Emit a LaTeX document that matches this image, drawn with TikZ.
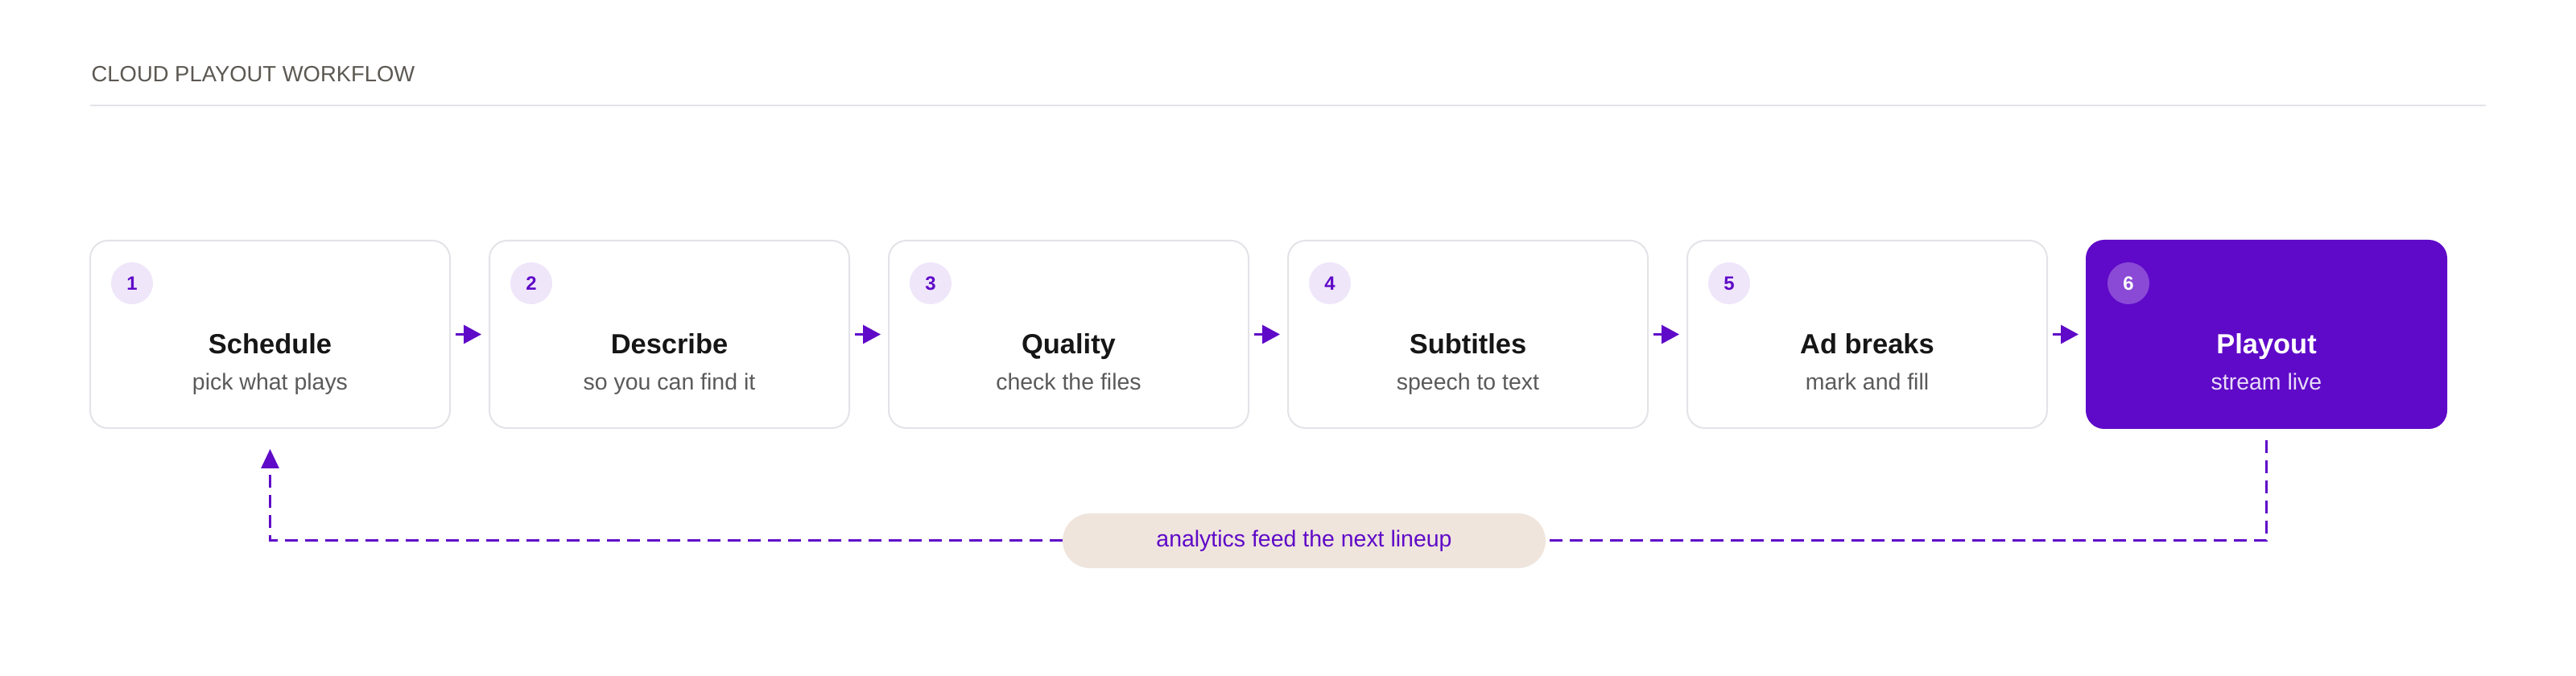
\documentclass[tikz,border=0pt]{standalone}
\usepackage{fontspec}
\setmainfont{Liberation Sans}
\usetikzlibrary{positioning,arrows.meta}
\definecolor{brand}{HTML}{5F0AC8}
\definecolor{badgebg}{HTML}{EFE6FA}
\definecolor{livebadge}{HTML}{8A4AD6}
\definecolor{livesub}{HTML}{E8DCF8}
\definecolor{edge}{HTML}{E3E3E8}
\definecolor{ink}{HTML}{161616}
\definecolor{muted}{HTML}{5A5A5A}
\definecolor{headgray}{HTML}{5C5852}
\definecolor{pillbg}{HTML}{F0E5DD}
\begin{document}
\begin{tikzpicture}[stepbox/.style={draw=edge,line width=0.02cm,rounded corners=0.22cm,fill=white,minimum width=4.47cm,minimum height=2.33cm,inner sep=0pt,outer sep=0pt},
	livebox/.style={stepbox,draw=brand,fill=brand},
	badge/.style={circle,fill=badgebg,text=brand,inner sep=0pt,minimum size=0.52cm,font=\fontsize{6.8}{8}\selectfont\bfseries},
	livebadgestyle/.style={badge,fill=livebadge,text=white},
	steptitle/.style={anchor=base,text=ink,font=\fontsize{9.8}{12}\selectfont\bfseries},
	stepsub/.style={anchor=base,text=muted,font=\fontsize{8.1}{10}\selectfont},
	flow/.style={draw=brand,line width=0.03cm,-{Triangle[length=0.22cm,width=0.23cm]},shorten <=0.07cm,shorten >=0.10cm},
	loopback/.style={draw=brand,line width=0.03cm,dash pattern=on 0.16cm off 0.09cm},
	pill/.style={fill=pillbg,text=brand,rounded corners=0.34cm,minimum width=6cm,minimum height=0.68cm,inner sep=0pt,outer sep=0pt,font=\fontsize{8.1}{10}\selectfont}]
	\useasboundingbox (0,0) rectangle (32,8.4);
	% heading
	\node[anchor=base west,text=headgray,font=\fontsize{7.8}{10}\selectfont,inner sep=0pt] (head) at (1.13,7.38) {CLOUD PLAYOUT WORKFLOW};
	\coordinate (ruleL) at (1.12,7.09);
	\coordinate (ruleR) at (30.88,7.09);
	\draw[edge,line width=0.02cm] (ruleL) -- (ruleR);
	% steps
	\node[stepbox] (s1) at (3.355,4.245) {};
	\node[stepbox,right=0.49cm of s1] (s2) {};
	\node[stepbox,right=0.49cm of s2] (s3) {};
	\node[stepbox,right=0.49cm of s3] (s4) {};
	\node[stepbox,right=0.49cm of s4] (s5) {};
	\node[livebox,right=0.49cm of s5] (s6) {};
	\node[badge] (b1) at ([xshift=0.52cm,yshift=-0.53cm]s1.north west) {1};
	\node[badge] (b2) at ([xshift=0.52cm,yshift=-0.53cm]s2.north west) {2};
	\node[badge] (b3) at ([xshift=0.52cm,yshift=-0.53cm]s3.north west) {3};
	\node[badge] (b4) at ([xshift=0.52cm,yshift=-0.53cm]s4.north west) {4};
	\node[badge] (b5) at ([xshift=0.52cm,yshift=-0.53cm]s5.north west) {5};
	\node[livebadgestyle] (b6) at ([xshift=0.52cm,yshift=-0.53cm]s6.north west) {6};
	\node[steptitle] (t1) at ([yshift=-0.245cm]s1.center) {Schedule};
	\node[steptitle] (t2) at ([yshift=-0.245cm]s2.center) {Describe};
	\node[steptitle] (t3) at ([yshift=-0.245cm]s3.center) {Quality};
	\node[steptitle] (t4) at ([yshift=-0.245cm]s4.center) {Subtitles};
	\node[steptitle] (t5) at ([yshift=-0.245cm]s5.center) {Ad breaks};
	\node[steptitle,text=white] (t6) at ([yshift=-0.245cm]s6.center) {Playout};
	\node[stepsub] (d1) at ([yshift=-0.695cm]s1.center) {pick what plays};
	\node[stepsub] (d2) at ([yshift=-0.695cm]s2.center) {so you can find it};
	\node[stepsub] (d3) at ([yshift=-0.695cm]s3.center) {check the files};
	\node[stepsub] (d4) at ([yshift=-0.695cm]s4.center) {speech to text};
	\node[stepsub] (d5) at ([yshift=-0.695cm]s5.center) {mark and fill};
	\node[stepsub,text=livesub] (d6) at ([yshift=-0.695cm]s6.center) {stream live};
	\draw[flow] (s1.east) -- (s2.west);
	\draw[flow] (s2.east) -- (s3.west);
	\draw[flow] (s3.east) -- (s4.west);
	\draw[flow] (s4.east) -- (s5.west);
	\draw[flow] (s5.east) -- (s6.west);
	% feedback loop
	\node[pill] (note) at (16.2,1.68) {analytics feed the next lineup};
	\coordinate (turn6) at (s6.south |- note);
	\coordinate (turn1) at (s1.south |- note);
	\draw[loopback,shorten <=0.15cm] (s6.south) -- (turn6) -- (note.east);
	\draw[loopback,-{Triangle[length=0.24cm,width=0.22cm]},shorten >=0.26cm] (note.west) -- (turn1) -- (s1.south);
\end{tikzpicture}
\end{document}
